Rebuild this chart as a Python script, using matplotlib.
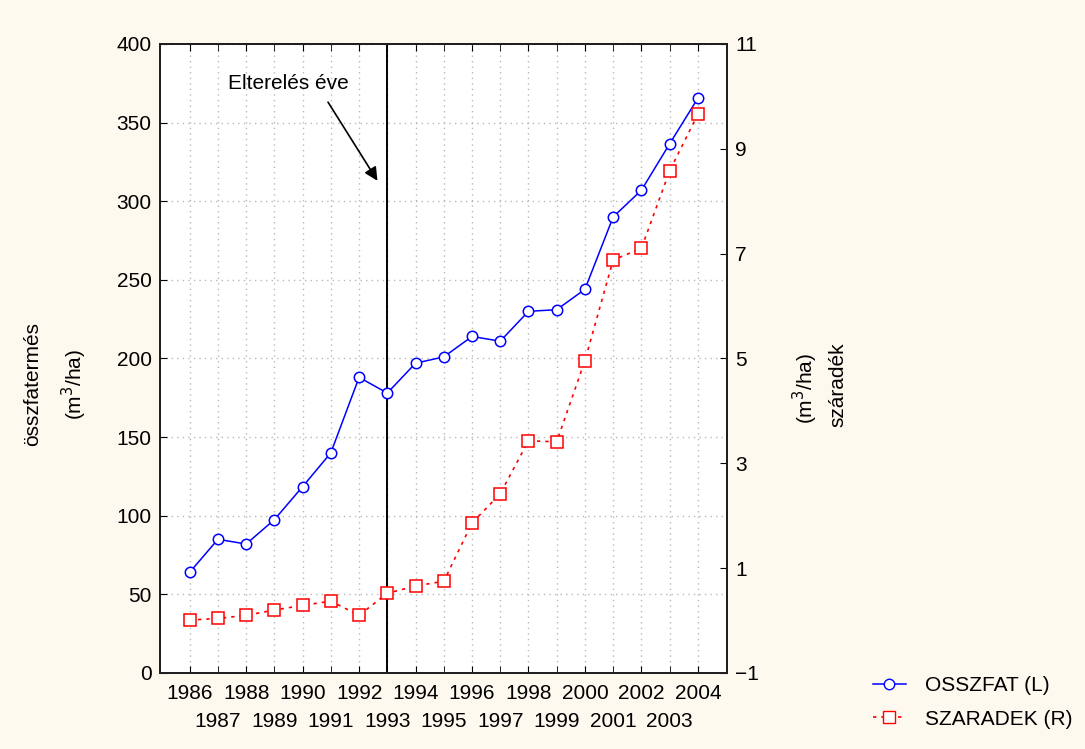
import matplotlib
matplotlib.use("Agg")
import matplotlib.pyplot as plt
from matplotlib.lines import Line2D

plt.rcParams['font.family'] = ['Liberation Sans', 'DejaVu Sans']

# data
years = list(range(1986, 2005))
osszfat = [64, 85, 82, 97.5, 118.5, 140, 188, 178, 197, 201,
           214, 211, 230, 231, 244, 290, 307, 336.5, 365.5]
szaradek = [0.01, 0.04, 0.10, 0.20, 0.29, 0.37, 0.10, 0.52, 0.66, 0.75,
            1.86, 2.42, 3.43, 3.41, 4.96, 6.88, 7.10, 8.58, 9.66]
event_year = 1993

left_ticks = list(range(0, 401, 50))
right_ticks = [-1, 1, 3, 5, 7, 9, 11]
even_years = [y for y in years if y % 2 == 0]
odd_years = [y for y in years if y % 2 == 1]

bg = '#fdf9ee'
fig = plt.figure(figsize=(10.85, 7.49), dpi=100, facecolor=bg)
ax = fig.add_axes([0.1475, 0.1015, 0.5225, 0.8398])
ax.set_facecolor('white')

ax.plot(years, osszfat, color='#0000ff', lw=1.1, marker='o', ms=7.5,
        mfc='white', mec='#0000ff', mew=1.1, zorder=4)
ax.axvline(event_year, color='black', lw=1.4, zorder=3)

ax.set_xlim(1984.95, 2005.03)
ax.set_ylim(0, 400)
# even years on the first row, odd years on a second row below
ax.set_xticks(even_years)
ax.set_xticklabels([str(y) for y in even_years], fontsize=15)
ax.set_xticks(odd_years, minor=True)
ax.set_xticklabels([str(y) for y in odd_years], minor=True, fontsize=15)
ax.set_yticks(left_ticks)
ax.tick_params(axis='y', labelsize=15, direction='in', length=5, pad=6,
               right=False)
ax.tick_params(axis='x', which='major', direction='in', length=5, top=True,
               pad=8)
ax.tick_params(axis='x', which='minor', direction='in', length=5, top=True,
               pad=28)
ax.grid(True, which='both', color='#b8b8b8', ls=(0, (1, 3)), lw=1)

ax2 = ax.twinx()
ax2.plot(years, szaradek, color='#ff0000', lw=1.2, ls=(0, (2, 3)),
         marker='s', ms=8, mfc='white', mec='#ff0000', mew=1.1, zorder=4)
ax2.set_ylim(-1, 11)
ax2.set_yticks(right_ticks)
ax2.tick_params(axis='y', labelsize=15, direction='in', length=5, pad=6)

for a in (ax, ax2):
    for s in a.spines.values():
        s.set_linewidth(1.4)
        s.set_color('#202020')

ax.text(1989.5, 375, "Elterelés éve", fontsize=15, ha='center', va='center')
ax.annotate("", xy=(1992.65, 313), xytext=(1990.9, 363),
            arrowprops=dict(arrowstyle='-|>', color='black', lw=1.2,
                            mutation_scale=20, shrinkA=0, shrinkB=0))

# axis titles
fig.text(0.0304, 0.487, "összfatermés", rotation=90, ha='center', va='center',
         fontsize=15)
fig.text(0.069, 0.487, "(m$^3$/ha)", rotation=90, ha='center', va='center',
         fontsize=15)
fig.text(0.742, 0.482, "(m$^3$/ha)", rotation=90, ha='center', va='center',
         fontsize=15)
fig.text(0.772, 0.487, "száradék", rotation=90, ha='center', va='center',
         fontsize=15)

handles = [
    Line2D([], [], color='#0000ff', lw=1.1, marker='o', ms=7.5, mfc='white',
           mec='#0000ff'),
    Line2D([], [], color='#ff0000', lw=1.2, ls=(0, (2, 3)), marker='s',
           ms=8, mfc='white', mec='#ff0000'),
]
fig.legend(handles, ["OSSZFAT (L)", "SZARADEK (R)"], loc='lower left',
           bbox_to_anchor=(0.787, 0.002), frameon=False, fontsize=15,
           handlelength=1.6, handletextpad=0.9, labelspacing=0.7)

fig.savefig("out.png", dpi=100, facecolor=bg)
